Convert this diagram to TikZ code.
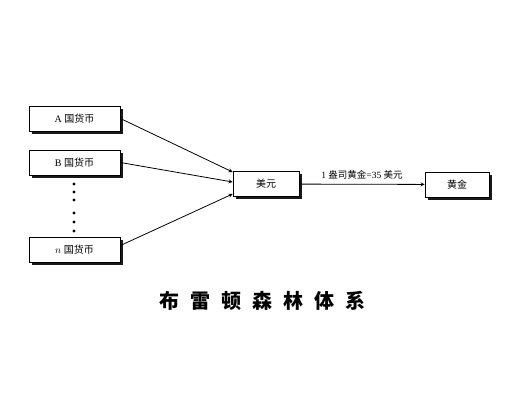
\documentclass[tikz,border=0pt]{standalone}
\usepackage{fontspec}
\setmainfont{Liberation Serif}
\newfontfamily\cjk{Noto Sans CJK SC}
\usetikzlibrary{shadows}

\begin{document}
\begin{tikzpicture}[x=1pt, y=-1pt,
    box/.style={draw, thick, fill=white, minimum height=25pt, font=\fontsize{10}{12}\selectfont,
      drop shadow={shadow xshift=2.5pt, shadow yshift=-2.5pt, fill=black, opacity=0.9}},
    link/.style={thick, -stealth}]
    \useasboundingbox (0,0) rectangle (517,400);
    % 各国の通貨
    \node[box, minimum width=91pt] (cura) at (74.5,118.5) {A {\cjk 国货币}};
    \node[box, minimum width=91pt] (curb) at (74.5,162.5) {B {\cjk 国货币}};
    \node[box, minimum width=91pt] (curn) at (74.5,249.5) {$n$ {\cjk 国货币}};
    \foreach \y in {184,192,200,213,222,231}
        \fill (74,\y) circle (1.7);
    % ドルと金
    \node[box, minimum width=66pt] (usd) at (266,184) {\cjk 美元};
    \node[box, minimum width=64pt] (gold) at (457,184.5) {\cjk 黄金};
    \draw[link] (cura.east)--([yshift=12pt]usd.west);
    \draw[link] (curb.east)--([yshift=2pt]usd.west);
    \draw[link] ([yshift=4pt]curn.east)--([yshift=-10pt]usd.west);
    \draw[link] (usd)-- node[above=1pt, font=\fontsize{9.5}{11}\selectfont] {1 {\cjk 盎司黄金}=35 {\cjk 美元}} (gold);
    \node[font=\cjk\bfseries\fontsize{20}{24}\selectfont] (title) at (262,301) {布\hspace{11pt}雷\hspace{11pt}顿\hspace{11pt}森\hspace{11pt}林\hspace{11pt}体\hspace{11pt}系};%タイトル
\end{tikzpicture}
\end{document}
